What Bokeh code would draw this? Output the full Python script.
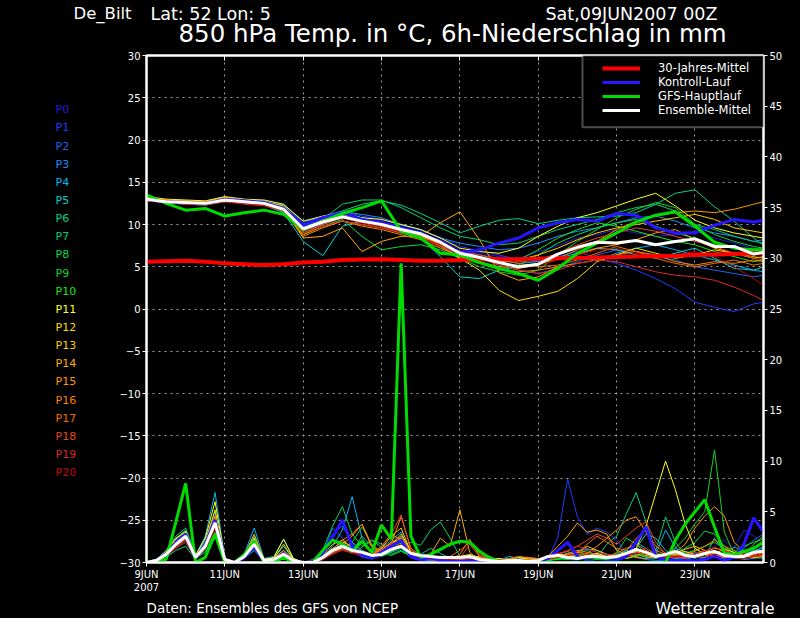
from bokeh.plotting import figure
from bokeh.layouts import column, row
from bokeh.models import (Range1d, LinearAxis, FixedTicker, Label, BoxAnnotation,
                          Legend, LegendItem)
from bokeh.embed import file_html
from bokeh.resources import INLINE

FONT = "DejaVu Sans"

# ---------------- time axes (hours after 09JUN2007 00Z) ----------------
HOURS_12 = list(range(0, 384, 12)) + [378]     # temperature steps
HOURS_6 = list(range(0, 384, 6))               # precipitation steps

DATE_TICKS = [0, 48, 96, 144, 192, 240, 288, 336]
DATE_LABELS = ["9JUN\n2007", "11JUN", "13JUN", "15JUN", "17JUN", "19JUN", "21JUN", "23JUN"]
GRID_HOURS = [48, 96, 144, 192, 240, 288, 336]
TEMP_TICKS = [-30, -25, -20, -15, -10, -5, 0, 5, 10, 15, 20, 25, 30]
TEMP_GRID = [-25, -20, -15, -10, -5, 0, 5, 10, 15, 20, 25]
PREC_TICKS = [0, 5, 10, 15, 20, 25, 30, 35, 40, 45, 50]

MEMBER_NAMES = ["P0", "P1", "P2", "P3", "P4", "P5", "P6", "P7", "P8", "P9", "P10",
                "P11", "P12", "P13", "P14", "P15", "P16", "P17", "P18", "P19", "P20"]
MEMBER_COLORS = ["#2818d8", "#1e3cff", "#1e64f0", "#1e8cff", "#00b4f0", "#00d2d2",
                 "#00d28c", "#00d26e", "#00dc50", "#14d228", "#14e614", "#ffff1e",
                 "#ffdc00", "#ffc800", "#ffaa00", "#ff9600", "#fa8200", "#f06e00",
                 "#e64628", "#dc2828", "#c80000"]

# ---------------- 850 hPa temperature (deg C), 12-hourly ----------------
CLIM_T = [5.6, 5.65, 5.7, 5.6, 5.4, 5.3, 5.2, 5.3, 5.5, 5.6, 5.8, 5.85, 5.9, 5.8, 5.7, 5.7,
          5.8, 5.85, 5.9, 5.9, 5.95, 6.0, 6.05, 6.1, 6.15, 6.2, 6.25, 6.3, 6.4, 6.45, 6.5, 6.6, 6.6]
CTRL_T = [13.0, 12.7, 12.6, 12.5, 13.0, 12.8, 12.6, 11.9, 9.9, 10.8, 11.4, 10.6, 10.2, 9.6, 9.0, 8.0,
          6.6, 7.0, 7.8, 8.4, 9.6, 10.2, 10.6, 10.4, 11.3, 11.1, 9.6, 9.0, 9.0, 9.9, 10.6, 10.3, 10.5]
GFS_T = [13.5, 12.5, 11.7, 11.9, 11.0, 11.4, 11.7, 11.2, 9.4, 10.4, 11.3, 12.0, 12.8, 9.2, 8.4, 6.6,
         6.4, 5.5, 4.8, 4.2, 3.4, 4.8, 6.6, 7.8, 9.0, 10.3, 11.1, 11.5, 9.8, 7.9, 7.2, 7.0, 7.0]
MEAN_T = [13.0, 12.7, 12.6, 12.5, 12.9, 12.7, 12.5, 11.8, 9.5, 10.3, 10.9, 10.4, 10.0, 9.4, 8.9, 7.9,
          6.6, 6.1, 5.5, 5.0, 5.3, 6.5, 7.3, 7.9, 7.8, 8.1, 7.6, 8.0, 8.3, 7.4, 7.4, 6.5, 6.7]

P0_T = [13.1, 12.8, 12.7, 12.6, 13.0, 12.8, 12.7, 12.2, 9.8, 10.6, 11.2, 10.8, 10.4, 9.7, 9.0, 8.2,
        7.0, 6.6, 6.2, 6.0, 6.8, 7.5, 8.4, 8.8, 9.4, 9.0, 8.6, 8.8, 9.2, 8.4, 7.8, 7.2, 7.0]
P1_T = [13.0, 12.9, 12.8, 12.7, 13.2, 12.9, 12.8, 12.4, 10.2, 11.0, 11.6, 11.0, 10.6, 9.9, 9.3, 8.5,
        7.4, 6.9, 6.4, 5.8, 5.6, 6.2, 6.8, 6.0, 5.4, 4.6, 3.6, 2.4, 0.8, 0.2, -0.3, 0.6, 0.8]
P2_T = [12.9, 12.6, 12.5, 12.4, 12.8, 12.6, 12.4, 11.6, 9.2, 10.0, 10.8, 10.3, 9.9, 9.3, 8.7, 7.6,
        6.4, 6.0, 5.2, 4.6, 4.2, 4.8, 5.6, 6.4, 7.0, 6.8, 6.2, 5.8, 5.0, 4.6, 4.2, 3.8, 4.0]
P3_T = [13.0, 12.7, 12.6, 12.6, 13.1, 12.8, 12.6, 12.3, 10.4, 10.8, 11.5, 11.2, 10.8, 10.0, 9.4, 8.4,
        7.8, 7.4, 7.0, 7.2, 7.8, 8.6, 9.2, 9.6, 10.2, 10.8, 11.0, 10.4, 9.6, 9.0, 8.6, 8.0, 8.2]
P4_T = [13.0, 12.8, 12.6, 12.5, 13.0, 12.9, 12.8, 12.0, 9.6, 10.2, 11.0, 10.6, 10.2, 9.6, 9.0, 7.8,
        6.8, 6.4, 5.8, 5.4, 5.6, 6.2, 6.0, 5.8, 6.6, 7.2, 7.6, 7.0, 6.4, 5.8, 5.2, 4.6, 4.4]
P5_T = [12.8, 12.6, 12.4, 12.3, 12.7, 12.5, 12.3, 11.4, 8.0, 6.3, 9.8, 10.4, 10.0, 9.2, 8.4, 6.2,
        3.8, 3.6, 4.6, 5.0, 5.4, 6.0, 6.6, 7.2, 7.0, 6.4, 6.0, 6.6, 7.2, 6.0, 4.8, 4.6, 5.0]
P6_T = [12.9, 12.7, 12.5, 12.5, 12.8, 12.7, 12.5, 11.9, 10.0, 10.8, 11.6, 12.4, 12.8, 12.3, 11.3, 10.2,
        9.0, 9.8, 10.5, 10.7, 10.1, 10.5, 10.8, 10.9, 11.0, 11.4, 12.4, 13.7, 14.1, 12.1, 10.4, 8.4, 7.5]
P7_T = [12.8, 12.6, 12.4, 12.4, 12.7, 12.6, 12.4, 11.7, 9.6, 10.6, 12.4, 12.9, 12.9, 12.0, 10.8, 9.6,
        8.6, 8.2, 7.6, 7.8, 8.6, 9.4, 10.0, 10.6, 11.4, 12.0, 12.4, 11.6, 10.0, 9.4, 8.6, 8.0, 7.8]
P8_T = [12.9, 12.7, 12.5, 12.4, 12.8, 12.6, 12.4, 11.5, 8.8, 9.8, 10.6, 8.6, 7.0, 7.4, 7.6, 7.0,
        6.0, 5.4, 5.0, 5.2, 6.4, 7.8, 8.8, 9.6, 10.2, 10.6, 9.8, 9.0, 8.4, 7.6, 7.2, 6.8, 6.9]
P9_T = [12.9, 12.8, 12.6, 12.5, 12.9, 12.7, 12.5, 11.8, 9.4, 10.4, 11.2, 10.8, 10.2, 9.6, 8.8, 7.4,
        6.0, 5.0, 4.4, 4.0, 4.6, 6.4, 8.0, 9.4, 10.8, 11.8, 12.6, 12.0, 10.0, 8.8, 8.0, 7.4, 7.2]
P10_T = [13.0, 12.8, 12.6, 12.6, 13.0, 12.8, 12.6, 12.0, 9.8, 10.6, 11.0, 10.4, 10.0, 9.4, 8.8, 7.8,
         6.4, 5.8, 5.6, 5.8, 7.0, 8.4, 9.4, 10.2, 9.8, 9.2, 8.6, 8.0, 7.6, 6.8, 6.2, 5.6, 5.8]
P11_T = [13.3, 13.0, 12.9, 12.8, 13.3, 13.0, 12.9, 12.4, 10.4, 11.0, 11.4, 10.8, 10.6, 10.0, 9.4, 8.4,
         7.2, 6.8, 6.6, 7.2, 8.6, 9.8, 10.8, 11.4, 12.2, 13.0, 13.7, 12.2, 10.5, 9.6, 9.0, 8.6, 8.4]
P12_T = [13.2, 12.9, 12.8, 12.7, 13.2, 12.9, 12.7, 12.2, 10.0, 10.6, 11.2, 10.6, 10.2, 9.6, 9.0, 7.6,
         6.0, 4.6, 2.2, 1.0, 1.5, 2.1, 3.6, 5.6, 6.4, 7.2, 6.6, 6.0, 6.4, 7.0, 6.6, 6.0, 6.2]
P13_T = [13.2, 12.9, 12.7, 12.6, 13.1, 12.8, 12.6, 12.0, 9.4, 10.2, 11.0, 10.4, 9.8, 9.2, 8.6, 7.6,
         6.8, 6.2, 5.6, 5.8, 6.4, 7.2, 8.2, 9.0, 9.6, 10.0, 10.4, 10.8, 11.2, 10.6, 9.6, 9.2, 9.0]
P14_T = [13.1, 12.9, 12.8, 12.6, 13.0, 12.8, 12.6, 11.8, 8.4, 8.6, 9.6, 6.8, 8.0, 8.6, 8.6, 10.2,
         11.5, 8.2, 4.3, 3.4, 3.8, 5.0, 6.4, 7.2, 7.6, 8.2, 9.0, 9.4, 8.2, 7.2, 6.6, 6.2, 6.0]
P15_T = [13.2, 12.9, 12.7, 12.6, 13.0, 12.7, 12.5, 11.7, 8.6, 9.6, 10.4, 10.0, 9.6, 9.0, 8.6, 7.4,
         6.2, 5.6, 5.0, 4.8, 5.2, 6.0, 7.0, 8.0, 9.4, 10.4, 11.0, 11.4, 11.6, 11.4, 11.8, 12.4, 12.7]
P16_T = [13.1, 12.8, 12.6, 12.5, 12.9, 12.6, 12.4, 11.6, 8.8, 9.8, 10.4, 9.8, 9.4, 8.8, 8.2, 7.2,
         6.2, 5.6, 4.8, 4.4, 4.6, 5.0, 5.4, 5.8, 6.4, 6.8, 6.4, 5.6, 5.2, 5.6, 5.4, 5.8, 5.6]
P17_T = [13.0, 12.7, 12.5, 12.4, 12.8, 12.6, 12.4, 11.8, 9.0, 10.0, 10.8, 10.2, 9.8, 9.2, 8.6, 7.6,
         6.6, 6.2, 5.8, 5.4, 5.0, 5.2, 5.8, 6.6, 7.4, 6.8, 6.0, 5.4, 5.0, 5.4, 5.8, 5.2, 5.4]
P18_T = [12.9, 12.7, 12.5, 12.4, 12.8, 12.5, 12.3, 11.7, 9.2, 10.2, 10.8, 10.4, 10.0, 9.4, 8.8, 7.8,
         6.8, 6.4, 6.0, 5.6, 5.8, 6.6, 7.6, 8.4, 9.0, 9.6, 9.2, 8.6, 8.0, 7.4, 6.6, 6.0, 5.8]
P19_T = [12.8, 12.6, 12.4, 12.3, 12.7, 12.4, 12.2, 11.6, 9.0, 9.8, 10.4, 10.0, 9.6, 9.0, 8.4, 7.4,
         6.4, 6.0, 5.2, 4.6, 4.2, 4.6, 5.4, 5.8, 5.6, 5.0, 4.4, 4.0, 3.8, 3.4, 2.6, 1.6, 1.0]
P20_T = [12.8, 12.6, 12.4, 12.4, 12.7, 12.5, 12.3, 11.7, 9.4, 10.2, 10.8, 10.2, 9.8, 9.2, 8.4, 7.6,
         6.6, 6.0, 5.4, 5.0, 5.2, 5.8, 6.4, 7.0, 7.2, 6.6, 6.2, 6.4, 6.8, 6.2, 5.0, 3.6, 2.8]

# ---------------- 6h precipitation (mm), 6-hourly ----------------
MEAN_R = [0, 0.2, 0.8, 1.8, 2.6, 0.5, 1.6, 3.9, 0.3, 0, 0.6, 1.8, 0.2, 0.3, 0.8, 0.2,
          0, 0, 0.5, 1.2, 1.6, 1.2, 1.0, 0.7, 0.8, 1.3, 1.6, 0.9, 0.7, 0.6, 0.5, 0.5,
          0.5, 0.6, 0.3, 0.2, 0.1, 0.2, 0.2, 0.1, 0.2, 0.6, 0.7, 0.5, 0.4, 0.6, 0.6, 0.5,
          0.6, 0.9, 1.3, 1.0, 0.6, 0.8, 1.1, 0.7, 0.6, 0.9, 1.1, 0.7, 0.6, 0.6, 1.0, 1.1]
GFS_R = [0, 0.2, 0.3, 4.0, 7.8, 0.0, 0.5, 2.8, 0, 0, 0.8, 2.1, 0, 0, 0.5, 0,
         0, 0, 1.2, 2.2, 1.8, 1.1, 2.1, 1.0, 3.7, 2.3, 29.5, 2.6, 0.5, 0.8, 1.3, 1.8,
         2.1, 2.0, 1.1, 0.5, 0.1, 0, 0, 0, 0, 0, 0, 0, 0, 0, 0, 0,
         0, 0, 0, 0, 0, 0, 2.2, 3.8, 5.0, 6.2, 3.5, 0.9, 0.8, 1.1, 1.4, 2.0]
CTRL_R = [0, 0.2, 0.9, 2.0, 2.8, 0.4, 1.8, 4.2, 0.2, 0, 0.5, 1.5, 0.1, 0.2, 0.9, 0.1,
          0, 0.1, 0.9, 2.5, 4.2, 1.6, 0.8, 0.5, 1.0, 1.6, 2.2, 0.6, 0.3, 0.5, 0.2, 0.1,
          0.1, 0.2, 0.1, 0, 0, 0, 0, 0, 0, 0.4, 1.2, 2.0, 0.6, 0.2, 0, 0.1,
          0.2, 0.6, 2.0, 3.5, 0.6, 0.3, 0.2, 0.2, 0.1, 0.3, 0.6, 0.2, 0.5, 1.8, 4.4, 3.0]

P0_R = [0, 0.1, 0.6, 1.5, 2.2, 0.4, 1.8, 4.2, 0.2, 0, 0.4, 1.6, 0.1, 0.2, 0.6, 0.1,
        0, 0, 0.6, 1.4, 2.0, 1.0, 0.5, 0.3, 0.6, 1.1, 1.5, 0.4, 0.2, 0.3, 0.1, 0.2,
        0.3, 0.2, 0.1, 0, 0, 0, 0.1, 0, 0, 0.2, 0.4, 0.3, 0.2, 0.5, 0.3, 0.2,
        0.4, 0.8, 1.0, 0.5, 0.2, 0.4, 0.6, 0.3, 0.5, 0.9, 1.6, 2.2, 1.4, 3.2, 2.6, 1.8]
P1_R = [0, 0.2, 0.9, 2.1, 3.0, 0.6, 2.0, 4.6, 0.3, 0, 0.7, 2.0, 0.3, 0.4, 1.0, 0.2,
        0, 0, 0.4, 2.8, 3.6, 2.0, 0.8, 0.6, 1.2, 1.5, 1.4, 0.5, 0.3, 0.2, 0.2, 0.1,
        0.1, 0, 0, 0, 0.1, 0.2, 0.1, 0, 0, 0.3, 2.5, 8.2, 4.5, 2.8, 3.4, 3.0,
        2.2, 1.0, 0.6, 0.3, 0.2, 0.1, 0.3, 0.4, 0.2, 0.5, 0.8, 0.4, 0.6, 1.0, 0.8, 0.6]
P2_R = [0, 0.2, 0.7, 1.7, 2.4, 0.5, 1.5, 3.6, 0.2, 0, 0.6, 1.7, 0.2, 0.3, 0.7, 0.2,
        0, 0.1, 0.8, 3.4, 2.4, 1.2, 0.6, 0.4, 0.9, 1.8, 2.0, 0.8, 0.4, 0.3, 0.6, 0.4,
        0.3, 0.2, 0.1, 0.3, 0.2, 0.4, 0.2, 0.1, 0.2, 0.4, 0.6, 0.8, 1.2, 1.4, 1.0, 0.6,
        0.4, 0.8, 0.5, 0.3, 0.2, 0.2, 0.4, 0.6, 1.0, 0.8, 0.6, 0.5, 0.8, 1.4, 2.2, 2.8]
P3_R = [0, 0.3, 1.0, 2.2, 2.9, 0.6, 1.9, 4.4, 0.3, 0, 0.7, 2.4, 0.3, 0.4, 1.2, 0.2,
        0, 0, 0.3, 1.2, 1.9, 1.4, 0.7, 0.5, 0.8, 1.0, 2.4, 0.7, 0.3, 0.2, 0.4, 0.2,
        0.2, 0.1, 0.5, 0.3, 0.2, 0.1, 0.3, 0.2, 0.1, 0.2, 0.4, 0.3, 1.1, 1.3, 1.2, 0.8,
        0.4, 0.6, 1.0, 0.6, 0.4, 0.8, 1.4, 1.0, 0.6, 0.4, 0.6, 0.8, 0.5, 0.3, 0.4, 0.6]
P4_R = [0, 0.3, 1.1, 2.4, 3.2, 0.7, 2.6, 6.9, 0.4, 0, 0.9, 3.4, 0.4, 0.6, 2.3, 0.4,
        0, 0.2, 0.5, 1.6, 3.2, 6.5, 2.4, 1.0, 1.4, 2.2, 3.0, 1.0, 0.6, 0.4, 0.3, 0.2,
        0.2, 0.3, 0.2, 0.1, 0.2, 0.6, 0.4, 0.2, 0.1, 0.3, 0.6, 0.4, 0.3, 0.5, 0.8, 0.6,
        0.5, 1.2, 2.0, 1.4, 0.8, 3.2, 1.5, 0.7, 0.4, 0.8, 1.2, 0.6, 0.4, 0.6, 1.0, 1.6]
P5_R = [0, 0.2, 0.8, 1.9, 2.7, 0.6, 2.2, 5.0, 0.3, 0, 0.8, 2.6, 0.3, 0.4, 1.6, 0.3,
        0, 0.1, 0.6, 1.0, 1.4, 2.0, 1.2, 0.8, 0.7, 1.3, 2.6, 1.0, 0.4, 0.3, 0.2, 0.3,
        0.4, 0.3, 0.2, 0.1, 0.1, 0.2, 0.6, 0.3, 0.1, 0.2, 0.3, 0.5, 0.4, 0.6, 0.4, 0.3,
        0.6, 1.0, 1.4, 2.8, 2.4, 1.2, 0.6, 0.8, 0.7, 0.5, 2.4, 1.0, 0.6, 0.8, 1.2, 1.4]
P6_R = [0, 0.1, 0.5, 1.2, 1.6, 0.3, 1.2, 3.0, 0.2, 0, 0.5, 1.3, 0.1, 0.2, 0.5, 0.1,
        0, 0, 0.4, 1.1, 1.3, 0.9, 1.5, 2.2, 1.5, 0.8, 1.2, 0.6, 0.8, 1.4, 0.9, 0.4,
        0.3, 0.2, 0.2, 0.1, 0.3, 0.2, 0.1, 0.2, 0.4, 0.3, 0.8, 1.1, 0.6, 0.9, 0.5, 1.8,
        2.6, 4.8, 6.9, 4.0, 1.0, 0.6, 0.4, 0.3, 0.6, 0.4, 1.0, 0.8, 1.5, 1.2, 0.8, 0.5]
P7_R = [0, 0.2, 0.6, 1.4, 2.0, 0.4, 1.0, 2.8, 0.2, 0, 0.4, 1.2, 0.1, 0.2, 0.6, 0.2,
        0, 0.3, 1.2, 3.6, 5.5, 2.8, 1.6, 2.2, 1.8, 1.1, 1.6, 2.0, 1.7, 3.2, 4.0, 2.4,
        0.6, 0.4, 0.2, 0.1, 0.2, 0.4, 0.2, 0.1, 0.2, 0.4, 0.6, 0.9, 0.6, 0.4, 0.8, 0.6,
        0.8, 1.2, 0.9, 0.6, 1.2, 4.5, 2.0, 0.8, 0.5, 0.8, 0.6, 0.4, 1.0, 0.8, 0.5, 0.4]
P8_R = [0, 0.3, 1.2, 2.6, 3.4, 0.8, 1.6, 3.4, 0.3, 0, 0.5, 1.6, 0.2, 0.3, 0.7, 0.2,
        0, 0, 0.4, 0.9, 1.2, 1.0, 2.6, 1.6, 0.6, 1.0, 1.4, 0.6, 0.4, 0.5, 0.6, 0.5,
        0.4, 0.3, 0.1, 0.1, 0.2, 0.1, 0.2, 0.3, 0.1, 0.2, 0.4, 0.6, 0.8, 1.2, 0.6, 0.4,
        1.0, 2.4, 1.8, 0.8, 0.6, 0.7, 0.9, 1.4, 2.0, 3.1, 2.8, 1.6, 0.9, 0.6, 0.8, 1.2]
P9_R = [0, 0.2, 0.7, 1.6, 2.3, 0.5, 1.4, 3.4, 0.2, 0, 0.5, 1.5, 0.2, 0.2, 0.6, 0.1,
        0, 0, 0.3, 0.8, 1.4, 2.0, 3.5, 1.8, 0.9, 0.7, 1.1, 0.6, 0.5, 0.4, 0.3, 0.4,
        0.3, 0.2, 0.1, 0.3, 0.4, 0.2, 0.1, 0.1, 0.2, 0.4, 0.3, 0.5, 0.6, 0.4, 0.3, 0.5,
        0.7, 0.6, 0.8, 0.5, 0.4, 0.6, 1.4, 2.4, 3.8, 5.0, 11.1, 3.0, 0.8, 0.6, 1.8, 2.6]
P10_R = [0, 0.2, 0.8, 1.9, 2.5, 0.5, 1.7, 4.0, 0.3, 0, 0.6, 1.9, 0.2, 0.3, 0.9, 0.2,
         0, 0.1, 0.5, 1.3, 1.7, 1.3, 1.0, 0.6, 0.9, 1.6, 1.9, 0.8, 0.6, 0.5, 0.6, 0.5,
         0.4, 0.3, 0.2, 0.1, 0.1, 0.1, 0.2, 0.1, 0.1, 0.2, 0.4, 0.3, 0.5, 0.6, 0.4, 0.3,
         0.5, 0.4, 0.6, 0.8, 0.6, 0.5, 0.7, 0.9, 1.2, 1.6, 2.0, 1.4, 1.0, 1.6, 2.0, 2.3]
P11_R = [0, 0.3, 1.0, 2.3, 3.1, 0.7, 2.4, 6.0, 0.4, 0, 0.8, 2.4, 0.3, 0.5, 2.3, 0.4,
         0, 0.1, 0.5, 1.2, 1.6, 1.1, 0.9, 0.6, 1.2, 2.0, 2.2, 0.9, 0.5, 0.4, 0.6, 0.3,
         0.3, 0.4, 0.6, 0.3, 0.4, 0.2, 0.3, 0.5, 0.3, 0.4, 0.8, 0.6, 0.5, 0.7, 0.9, 0.6,
         0.5, 1.0, 1.4, 3.6, 6.8, 10.0, 7.2, 3.8, 1.4, 0.8, 0.6, 0.5, 0.8, 0.6, 1.0, 1.2]
P12_R = [0, 0.3, 1.1, 2.4, 3.0, 0.6, 2.0, 5.2, 0.3, 0, 0.7, 2.2, 0.3, 0.4, 1.8, 0.3,
         0, 0, 0.4, 1.0, 1.5, 1.2, 0.8, 0.5, 1.0, 1.7, 2.8, 1.2, 0.6, 0.3, 0.2, 0.4,
         0.6, 0.8, 0.5, 0.2, 0.2, 0.3, 0.5, 0.4, 0.2, 0.3, 0.5, 0.7, 1.0, 0.8, 0.5, 0.4,
         0.6, 0.8, 1.1, 0.7, 0.5, 0.4, 0.8, 1.1, 0.8, 0.6, 0.9, 1.3, 1.0, 0.7, 0.5, 0.6]
P13_R = [0, 0.2, 0.9, 2.0, 2.8, 0.5, 1.7, 4.4, 0.3, 0, 0.7, 2.0, 0.2, 0.3, 1.0, 0.2,
         0, 0.2, 0.7, 1.8, 2.2, 1.5, 0.9, 0.7, 1.4, 2.6, 3.4, 1.0, 0.4, 0.3, 0.5, 0.3,
         0.2, 0.3, 0.4, 0.2, 0.1, 0.2, 0.3, 0.2, 0.3, 0.6, 0.9, 0.7, 1.0, 1.6, 1.2, 0.8,
         0.6, 0.4, 0.7, 1.0, 0.8, 0.6, 0.9, 1.3, 1.6, 1.2, 0.9, 0.7, 0.6, 0.5, 0.8, 1.0]
P14_R = [0, 0.2, 0.8, 1.8, 2.6, 0.5, 1.6, 4.0, 0.3, 0, 0.8, 2.8, 0.3, 0.4, 1.2, 0.3,
         0, 0.1, 0.6, 1.4, 2.0, 1.6, 1.1, 0.8, 1.6, 2.8, 2.2, 0.8, 0.6, 0.8, 2.4, 1.6,
         5.2, 1.0, 0.2, 0.1, 0.1, 0.3, 0.2, 0.1, 0.2, 0.6, 1.6, 2.6, 3.9, 3.0, 3.2, 2.8,
         1.2, 0.8, 0.5, 0.4, 0.6, 0.5, 0.8, 0.6, 0.7, 1.0, 1.4, 1.2, 0.8, 0.6, 0.9, 1.1]
P15_R = [0, 0.2, 0.9, 2.1, 2.9, 0.6, 1.9, 4.3, 0.3, 0, 0.7, 2.3, 0.3, 0.3, 1.0, 0.2,
         0, 0.1, 0.5, 1.2, 1.8, 2.6, 3.8, 1.5, 1.0, 1.8, 2.4, 1.0, 0.5, 0.4, 0.3, 0.5,
         0.6, 0.4, 0.3, 0.2, 0.2, 0.1, 0.2, 0.3, 0.2, 0.4, 0.6, 0.8, 0.7, 0.9, 1.6, 2.4,
         3.2, 4.2, 4.5, 3.0, 1.2, 0.8, 1.0, 1.8, 3.4, 4.6, 5.5, 4.6, 2.0, 1.0, 0.6, 0.8]
P16_R = [0, 0.2, 0.7, 1.7, 2.4, 0.5, 1.8, 4.6, 0.3, 0, 0.6, 1.9, 0.2, 0.3, 0.8, 0.2,
         0, 0.1, 0.5, 1.3, 2.2, 2.8, 3.8, 1.7, 1.1, 1.9, 4.5, 1.4, 0.7, 0.5, 0.4, 0.3,
         0.8, 2.3, 0.6, 0.3, 0.2, 0.4, 0.3, 0.2, 0.3, 0.4, 0.6, 0.9, 1.2, 1.0, 0.8, 0.6,
         0.9, 1.4, 1.8, 1.2, 0.7, 0.5, 0.6, 0.8, 1.1, 1.6, 2.2, 1.6, 1.2, 0.8, 0.6, 0.7]
P17_R = [0, 0.2, 0.8, 1.8, 2.5, 0.5, 1.7, 3.9, 0.2, 0, 0.6, 1.7, 0.2, 0.2, 0.7, 0.2,
         0, 0.1, 0.4, 1.1, 1.6, 1.2, 1.0, 0.6, 1.3, 2.0, 2.6, 1.0, 0.6, 0.4, 0.3, 0.6,
         1.2, 2.0, 0.8, 0.4, 0.2, 0.4, 0.6, 0.5, 0.4, 0.5, 0.7, 0.6, 0.9, 1.8, 2.6, 2.0,
         1.4, 1.2, 2.4, 3.2, 1.6, 0.9, 0.6, 0.5, 0.8, 1.2, 1.0, 0.8, 0.5, 0.4, 0.6, 0.9]
P18_R = [0, 0.2, 0.7, 1.6, 2.3, 0.4, 1.5, 3.6, 0.2, 0, 0.5, 1.5, 0.2, 0.2, 0.6, 0.1,
         0, 0.1, 0.4, 1.0, 1.4, 1.1, 0.9, 0.7, 1.6, 2.8, 4.7, 1.2, 0.5, 0.4, 0.3, 0.2,
         0.4, 1.8, 0.6, 0.2, 0.1, 0.2, 0.3, 0.2, 0.2, 0.4, 0.9, 1.1, 1.6, 2.2, 2.8, 2.4,
         1.8, 2.6, 3.4, 4.0, 2.0, 0.9, 0.6, 0.4, 0.6, 0.9, 0.7, 0.5, 0.6, 0.8, 0.7, 0.5]
P19_R = [0, 0.2, 0.6, 1.5, 2.2, 0.4, 1.4, 3.4, 0.2, 0, 0.5, 1.6, 0.1, 0.2, 0.5, 0.1,
         0, 0, 0.3, 0.9, 1.3, 1.0, 0.8, 0.6, 1.2, 1.8, 2.2, 0.9, 0.6, 0.4, 0.3, 0.2,
         0.3, 0.5, 0.4, 0.2, 0.3, 0.2, 0.1, 0.2, 0.3, 0.6, 0.8, 1.2, 1.6, 1.3, 1.0, 0.8,
         0.7, 0.6, 0.9, 1.4, 0.9, 0.6, 0.5, 0.6, 0.8, 1.1, 1.5, 1.2, 0.8, 0.6, 0.8, 1.0]
P20_R = [0, 0.1, 0.6, 1.4, 2.0, 0.3, 1.3, 3.3, 0.2, 0, 0.4, 1.4, 0.1, 0.2, 0.5, 0.1,
         0, 0, 0.3, 0.8, 1.2, 0.9, 0.7, 0.5, 0.8, 1.4, 1.8, 0.7, 0.4, 0.3, 0.2, 0.3,
         0.4, 0.3, 0.2, 0.1, 0.1, 0.2, 0.3, 0.2, 0.2, 0.3, 0.5, 0.7, 0.9, 0.8, 0.6, 0.5,
         0.6, 0.7, 0.9, 0.8, 0.6, 0.5, 0.6, 0.7, 0.5, 0.6, 0.8, 0.7, 0.5, 0.4, 0.6, 0.8]

MEMBER_T = [P0_T, P1_T, P2_T, P3_T, P4_T, P5_T, P6_T, P7_T, P8_T, P9_T, P10_T,
            P11_T, P12_T, P13_T, P14_T, P15_T, P16_T, P17_T, P18_T, P19_T, P20_T]
MEMBER_R = [P0_R, P1_R, P2_R, P3_R, P4_R, P5_R, P6_R, P7_R, P8_R, P9_R, P10_R,
            P11_R, P12_R, P13_R, P14_R, P15_R, P16_R, P17_R, P18_R, P19_R, P20_R]

LEGEND_LABELS = ["30-Jahres-Mittel", "Kontroll-Lauf", "GFS-Hauptlauf", "Ensemble-Mittel"]
HEADER_LEFT = "De_Bilt"
HEADER_POS = "Lat: 52 Lon: 5"
HEADER_DATE = "Sat,09JUN2007 00Z"
TITLE = "850 hPa Temp. in °C, 6h-Niederschlag in mm"
FOOTER_LEFT = "Daten: Ensembles des GFS von NCEP"
FOOTER_RIGHT = "Wetterzentrale"

# ---------------- page geometry (pixels) ----------------
PAGE_W, PAGE_H = 800, 618
MAIN_TOP, MAIN_BOT = 49, 595
LEFT_W = 110
FX0, FX1, FY0, FY1 = 146, 763, 563, 55    # frame left/right/bottom/top (page px)


def blank_fig(w, h):
    f = figure(width=w, height=h, title=None, output_backend="svg", toolbar_location=None,
               x_range=Range1d(0, 1), y_range=Range1d(0, 1),
               x_axis_type=None, y_axis_type=None,
               background_fill_color="black", border_fill_color="black",
               min_border=0, min_border_left=0, min_border_right=0,
               min_border_top=0, min_border_bottom=0, frame_align=False)
    f.outline_line_color = None
    return f


def add_text(fig, fig_top, fig_h, text, x, yc, size, color="white"):
    # x: left edge in page px, yc: vertical centre in page px
    fig.add_layout(Label(x=x, y=fig_h - (yc - fig_top), x_units="screen", y_units="screen",
                         text=text, text_color=color, text_font=FONT,
                         text_font_size=size, text_baseline="middle", text_align="left"))


# ---------------- header ----------------
head = blank_fig(PAGE_W, MAIN_TOP)
add_text(head, 0, MAIN_TOP, HEADER_LEFT, 73, 13.3, "16.5px")
add_text(head, 0, MAIN_TOP, HEADER_POS, 150, 13.3, "17.5px")
add_text(head, 0, MAIN_TOP, HEADER_DATE, 545, 13.3, "17.5px")
add_text(head, 0, MAIN_TOP, TITLE, 178, 32.5, "24.5px")

# ---------------- member labels ----------------
side = blank_fig(LEFT_W, MAIN_BOT - MAIN_TOP)
for i, (name, col) in enumerate(zip(MEMBER_NAMES, MEMBER_COLORS)):
    add_text(side, MAIN_TOP, MAIN_BOT - MAIN_TOP, name, 55, 109.3 + 18.14 * i, "11px", color=col)

# ---------------- footer ----------------
foot = blank_fig(PAGE_W, PAGE_H - MAIN_BOT)
add_text(foot, MAIN_BOT, PAGE_H - MAIN_BOT, FOOTER_LEFT, 146, 607.5, "13.5px")
add_text(foot, MAIN_BOT, PAGE_H - MAIN_BOT, FOOTER_RIGHT, 655, 607.5, "16px")

# ---------------- main chart ----------------
p = figure(width=PAGE_W - LEFT_W, height=MAIN_BOT - MAIN_TOP, title=None,
           output_backend="svg", toolbar_location=None,
           x_range=Range1d(0, 378), y_range=Range1d(-30, 30),
           background_fill_color="black", border_fill_color="black",
           min_border_left=FX0 - LEFT_W, min_border_right=PAGE_W - FX1,
           min_border_top=FY1 - MAIN_TOP, min_border_bottom=MAIN_BOT - FY0,
           frame_align=False)
p.extra_y_ranges = {"prec": Range1d(0, 50)}
p.outline_line_color = "white"
p.outline_line_width = 2


def style_axis(ax):
    ax.axis_line_color = "white"
    ax.axis_line_width = 2
    ax.major_tick_line_color = "white"
    ax.major_tick_line_width = 1
    ax.minor_tick_line_color = None
    ax.major_label_text_color = "white"
    ax.major_label_text_font = FONT
    ax.major_label_text_font_size = "10px"


xa = p.xaxis[0]
xa.ticker = FixedTicker(ticks=DATE_TICKS)
xa.major_label_overrides = {t: l for t, l in zip(DATE_TICKS, DATE_LABELS)}
style_axis(xa)
xa.major_tick_out = 4
xa.major_tick_in = 0
xa.major_label_standoff = 2

ya = p.yaxis[0]
ya.ticker = FixedTicker(ticks=TEMP_TICKS)
style_axis(ya)
ya.major_tick_out = 4
ya.major_tick_in = 0
ya.major_label_standoff = 2

ra = LinearAxis(y_range_name="prec", ticker=FixedTicker(ticks=PREC_TICKS))
style_axis(ra)
ra.major_tick_out = 4
ra.major_tick_in = 0
ra.major_label_standoff = 2
p.add_layout(ra, "right")

ta = LinearAxis(ticker=FixedTicker(ticks=GRID_HOURS))
style_axis(ta)
ta.major_tick_out = 0
ta.major_tick_in = 5
ta.major_label_standoff = 0
ta.major_label_text_font_size = "1px"
ta.major_label_text_color = None
p.add_layout(ta, "above")

p.xgrid.ticker = FixedTicker(ticks=GRID_HOURS)
p.ygrid.ticker = FixedTicker(ticks=TEMP_GRID)
for g in (p.xgrid[0], p.ygrid[0]):
    g.grid_line_color = "#a0a0a0"
    g.grid_line_dash = "2 4"
    g.grid_line_width = 1

for temps, rains, col in zip(MEMBER_T, MEMBER_R, MEMBER_COLORS):
    p.line(HOURS_12, temps, line_color=col, line_width=1)
    p.line(HOURS_6, rains, line_color=col, line_width=1, y_range_name="prec")

r_clim = p.line(HOURS_12, CLIM_T, line_color="#ff0000", line_width=4)
r_ctrl = p.line(HOURS_12, CTRL_T, line_color="#2814ff", line_width=3)
p.line(HOURS_6, CTRL_R, line_color="#2814ff", line_width=3, y_range_name="prec")
r_gfs = p.line(HOURS_12, GFS_T, line_color="#00dc00", line_width=3)
p.line(HOURS_6, GFS_R, line_color="#00dc00", line_width=3, y_range_name="prec")
r_mean = p.line(HOURS_12, MEAN_T, line_color="white", line_width=3)
p.line(HOURS_6, MEAN_R, line_color="white", line_width=3, y_range_name="prec")

PX_H = (FX1 - FX0) / 378.0      # px per hour
PX_T = (FY0 - FY1) / 60.0       # px per deg C
box = BoxAnnotation(left=(582 - FX0) / PX_H, right=378, top=30,
                    bottom=-30 + (FY0 - 127) / PX_T,
                    fill_color="black", fill_alpha=1.0, line_color="white", line_width=2)
p.add_layout(box)

legend = Legend(items=[LegendItem(label=LEGEND_LABELS[0], renderers=[r_clim]),
                       LegendItem(label=LEGEND_LABELS[1], renderers=[r_ctrl]),
                       LegendItem(label=LEGEND_LABELS[2], renderers=[r_gfs]),
                       LegendItem(label=LEGEND_LABELS[3], renderers=[r_mean])],
                location=(602 - FX0, FY0 - 118.3), orientation="vertical",
                padding=0, margin=0, spacing=0, glyph_width=38, glyph_height=14,
                label_height=14, label_standoff=18, label_text_color="white",
                label_text_font=FONT, label_text_font_size="11.5px",
                background_fill_alpha=0, border_line_alpha=0)
p.add_layout(legend, "center")

page = column(head, row(side, p, spacing=0), foot, spacing=0)

html = file_html(page, INLINE, title="De_Bilt Ensembles",
                 template="{% block preamble %}<style>html, body { background-color: #000000; "
                          "margin: 0; padding: 0; overflow: hidden; }</style>{% endblock %}")
open("out.html", "w").write(html)
